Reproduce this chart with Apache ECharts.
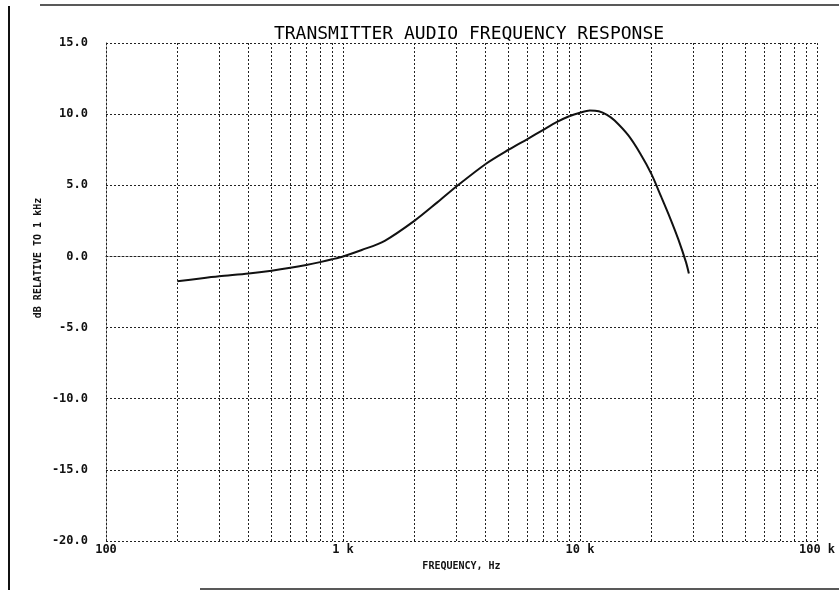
<!DOCTYPE html>
<html>
<head>
<meta charset="utf-8">
<title>Transmitter audio frequency response</title>
<script src="https://cdn.jsdelivr.net/npm/echarts@6/dist/echarts.min.js"></script>
<style>
  html, body { margin: 0; padding: 0; background: #fff; }
  #chart { width: 839px; height: 590px; }
</style>
</head>
<body>
<div id="chart"></div>
<script>
// curve: frequency (Hz) and dB relative to 1 kHz
var freqs = [200, 250, 300, 400, 500, 600, 700, 800, 900, 1000, 1200, 1500, 2000, 2500, 3000, 4000, 5000, 6000, 7000, 8000, 9000, 10000, 11000, 12000, 13000, 14000, 16000, 18000, 20000, 22000, 24000, 26000, 28000, 28800]
var dbValues = [-1.75, -1.55, -1.4, -1.2, -1.0, -0.8, -0.6, -0.4, -0.2, 0, 0.45, 1.1, 2.5, 3.8, 4.9, 6.5, 7.5, 8.25, 8.9, 9.45, 9.85, 10.1, 10.25, 10.2, 9.95, 9.55, 8.5, 7.2, 5.8, 4.2, 2.7, 1.2, -0.4, -1.2]

// minor log grid lines (2..9 in every decade)
var minorFreqs = [200, 300, 400, 500, 600, 700, 800, 900,
  2000, 3000, 4000, 5000, 6000, 7000, 8000, 9000,
  20000, 30000, 40000, 50000, 60000, 70000, 80000, 90000]

var yTicks = [-20, -15, -10, -5, 0, 5, 10, 15]

var chart = echarts.init(document.getElementById('chart'))

var gridLine = { color: '#222', width: 1, type: [2, 2] }
var mono = 'DejaVu Sans Mono'

chart.setOption({
  animation: false,
  backgroundColor: '#fff',
  title: {
    text: 'TRANSMITTER AUDIO FREQUENCY RESPONSE',
    left: 464,
    textAlign: 'center',
    top: 20,
    textStyle: { fontFamily: mono, fontWeight: 'normal', fontSize: 18, color: '#000' }
  },
  grid: { left: 106, right: 22, top: 43, bottom: 49 },
  xAxis: {
    type: 'log',
    logBase: 10,
    min: 100,
    max: 100000,
    splitNumber: 3,
    name: 'FREQUENCY, Hz',
    nameLocation: 'middle',
    nameGap: 20,
    nameTextStyle: { fontFamily: mono, fontWeight: 'bold', fontSize: 10, color: '#111' },
    axisLine: { lineStyle: gridLine },
    axisTick: { show: false },
    axisLabel: {
      margin: 3,
      fontFamily: mono,
      fontWeight: 'bold',
      fontSize: 12,
      color: '#111',
      formatter: function (v) {
        v = Math.round(v)
        return v >= 1000 ? (v / 1000) + ' k' : String(v)
      }
    },
    splitLine: { show: true, lineStyle: gridLine }
  },
  yAxis: {
    type: 'value',
    min: yTicks[0],
    max: yTicks[yTicks.length - 1],
    interval: 5,
    axisLine: { show: true, lineStyle: gridLine },
    axisTick: { show: false },
    axisLabel: {
      margin: 18,
      fontFamily: mono,
      fontWeight: 'bold',
      fontSize: 12,
      color: '#111',
      formatter: function (v) { return v.toFixed(1) }
    },
    splitLine: { show: true, lineStyle: gridLine }
  },
  graphic: [
    {
      type: 'text',
      x: 38,
      y: 258,
      rotation: Math.PI / 2,
      style: {
        text: 'dB RELATIVE TO 1 kHz',
        font: 'bold 10px "DejaVu Sans Mono"',
        fill: '#111',
        textAlign: 'center',
        textVerticalAlign: 'middle'
      }
    },
    { type: 'line', shape: { x1: 9, y1: 6, x2: 9, y2: 590 }, style: { stroke: '#111', lineWidth: 2 } },
    { type: 'line', shape: { x1: 40, y1: 5, x2: 839, y2: 5 }, style: { stroke: '#222', lineWidth: 1.5 } },
    { type: 'line', shape: { x1: 200, y1: 589, x2: 839, y2: 589 }, style: { stroke: '#222', lineWidth: 1.5 } }
  ],
  series: [
    {
      type: 'line',
      data: freqs.map(function (f, i) { return [f, dbValues[i]] }),
      smooth: 0.3,
      symbol: 'none',
      lineStyle: { color: '#111', width: 2 },
      markLine: {
        silent: true,
        symbol: ['none', 'none'],
        label: { show: false },
        lineStyle: gridLine,
        data: minorFreqs.map(function (f) { return { xAxis: f } })
      }
    }
  ]
})
</script>
</body>
</html>
